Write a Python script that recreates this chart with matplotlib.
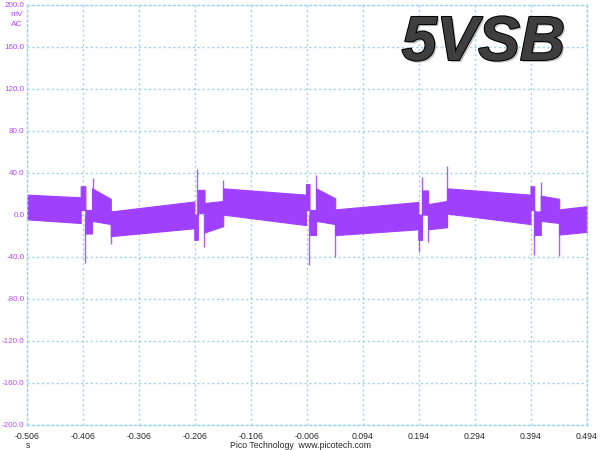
import numpy as np
import matplotlib.pyplot as plt
import matplotlib.patheffects as pe

# Ripple band: each segment runs from seg_start[i]
# to the next start, band top/bottom given at both ends (mV)
seg_start = [-0.506, -0.4096, -0.4012, -0.3894, -0.3558,
             -0.2067, -0.2004, -0.1885, -0.1551,
             -0.0073, -0.0010, 0.0107, 0.0449,
             0.1933, 0.2000, 0.2108, 0.2447,
             0.3936, 0.4003, 0.4120, 0.4449]
t_end = 0.494
top_a = [19, 27, 4.4, 25, 3, 0, 23.5, 11, 25, 29, 4.4, 25, 5, 0, 23, 10, 25, 27, 3, 18, 5]
top_b = [16.5, 27, 4.4, 15, 12.5, 0, 23.5, 13, 19, 29, 4.4, 15.5, 12, 0, 23, 13, 19, 27, 3, 15, 8]
bot_a = [-4.5, 4.4, -18, -6, -20.5, -24, 1.3, -17, 0, 4.4, -19.4, -6, -19.5, -24, 0, -14, 1, 4.4, -19.4, -6, -19]
bot_b = [-8, 4.4, -18, -9, -13, -24, 1.3, -11, -10, 4.4, -19.4, -9, -14, -24, 0, -12, -9, 4.4, -19.4, -8, -16.5]

# switching spikes (time s, peak mV)
spike_t = [-0.4015, -0.3885, -0.356, -0.2014, -0.1889, -0.1549, -0.0019, 0.0112,
           0.0451, 0.1945, 0.1991, 0.211, 0.2449, 0.4003, 0.4122, 0.4451]
spike_v = [-46, 35, -28, 43, -30.5, 33, -48, 38, -40, -36, 36, -26, 46, -38, 31, -39]

x_ticks = [-0.506, -0.406, -0.306, -0.206, -0.106, -0.006, 0.094, 0.194, 0.294, 0.394, 0.494]
y_ticks = [-200, -160, -120, -80, -40, 0, 40, 80, 120, 160, 200]

trace = '#a040ff'
grid_c = '#98d4ee'
ylab_c = '#b448ff'
txt_c = '#2a2a2a'

seg_end = seg_start[1:] + [t_end]
t, top, bot = [], [], []
for i in range(len(seg_start)):
    t += [seg_start[i], seg_end[i]]
    top += [top_a[i], top_b[i]]
    bot += [bot_a[i], bot_b[i]]

fig = plt.figure(figsize=(6, 4.5), dpi=100)
ax = fig.add_axes([26.7 / 600, 1 - 424.7 / 450, 560 / 600, 420.2 / 450])

ax.fill_between(t, bot, top, color=trace, linewidth=0.8, edgecolor=trace)
ax.vlines(spike_t, 0, spike_v, color=trace, linewidth=1.0, alpha=0.85)

ax.set_xlim(-0.506, 0.494)
ax.set_ylim(-200, 200)
ax.set_xticks(x_ticks)
ax.set_xticklabels(['%.3f' % v for v in x_ticks])
ax.set_yticks(y_ticks)
ax.set_yticklabels(['%.1f' % v for v in y_ticks])
ax.tick_params(axis='x', length=0, pad=5, labelsize=6.3, labelcolor=txt_c)
ax.tick_params(axis='y', length=0, pad=1.5, labelsize=5.8, labelcolor=ylab_c)
for lab in ax.get_xticklabels() + ax.get_yticklabels():
    lab.set_family('Liberation Sans')

ax.grid(True, color=grid_c, linestyle=(0, (1.5, 2)), linewidth=1)
for sp in ax.spines.values():
    sp.set_color(grid_c)
    sp.set_linestyle((0, (1.5, 2)))
    sp.set_linewidth(1)
ax.set_axisbelow(True)

fig.text(17 / 600, 1 - 15 / 450, 'mV', color=ylab_c, fontsize=6, ha='center', va='center',
         family='Liberation Sans')
fig.text(17 / 600, 1 - 24 / 450, 'AC', color=ylab_c, fontsize=6, ha='center', va='center',
         family='Liberation Sans')
fig.text(28 / 600, 1 - 446 / 450, 's', color=txt_c, fontsize=6.3, ha='center', va='center',
         family='Liberation Sans')
fig.text(300 / 600, 1 - 445 / 450, 'Pico Technology  www.picotech.com', color=txt_c,
         fontsize=6.3, ha='center', va='center', family='Liberation Sans')

fig.text(483.5 / 600, 1 - 60 / 450, '5VSB', fontsize=45, fontweight='bold', fontstyle='italic',
         family='Liberation Sans', color='#3e3e3e', ha='center', va='baseline',
         path_effects=[pe.SimplePatchShadow(offset=(1.5, -1.5), shadow_rgbFace='#999999', alpha=0.6),
                       pe.Stroke(linewidth=1.5, foreground='black'), pe.Normal()])

fig.savefig('out.png', dpi=100)
